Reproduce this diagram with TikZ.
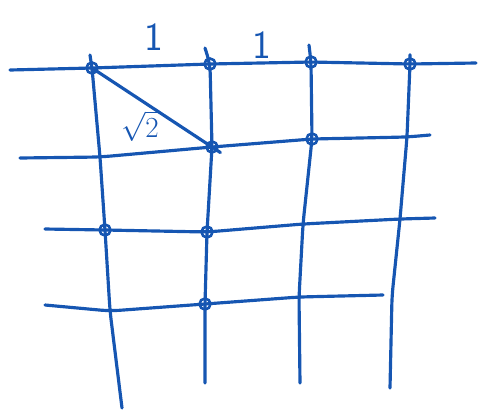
\documentclass[tikz,border=0pt]{standalone}
\usepackage{amsmath}
\usetikzlibrary{calc}
\definecolor{stylo}{RGB}{22,86,178}

\begin{document}
\begin{tikzpicture}[x=0.03cm, y=-0.03cm,
		trait/.style={draw=stylo, line width=2.7pt, line cap=round, line join=round, rounded corners=8pt},
		noeud/.style={circle, draw=stylo, line width=2.2pt, inner sep=0pt, minimum size=0.33cm},
		etiq/.style={text=stylo, font=\sffamily\fontsize{34}{34}\selectfont}]
	\useasboundingbox (0,0) rectangle (478,411);
	
	% points of the grid
	\coordinate (L1) at (10,70);  \coordinate (R1) at (476,63);
	\coordinate (L2) at (20,158); \coordinate (R2) at (430,135);
	\coordinate (L3) at (45,229); \coordinate (R3) at (435,218);
	\coordinate (L4) at (45,305); \coordinate (R4) at (383,295);
	\coordinate (T1) at (90,55);  \coordinate (B1) at (122,408);
	\coordinate (T2) at (205,48); \coordinate (B2) at (205,383);
	\coordinate (T3) at (309,45); \coordinate (B3) at (300,383);
	\coordinate (T4) at (410,55); \coordinate (B4) at (390,388);
	
	\coordinate (c11) at (92,68);   \coordinate (c12) at (210,64);
	\coordinate (c13) at (311,62);  \coordinate (c14) at (410,64);
	\coordinate (c21) at (100,157); \coordinate (c22) at (212,147);
	\coordinate (c23) at (312,139); \coordinate (c24) at (407,137);
	\coordinate (c31) at (105,230); \coordinate (c32) at (207,232);
	\coordinate (c33) at (303,224); \coordinate (c34) at (400,219);
	\coordinate (c41) at (110,311); \coordinate (c42) at (205,304);
	\coordinate (c43) at (299,297); \coordinate (c44) at (392,296);
	
	% lines
	\draw[trait] (L1) -- (c11) -- (c12) -- (c13) -- (c14) -- (R1);
	\draw[trait] (L2) -- (c21) -- (c22) -- (c23) -- (c24) -- (R2);
	\draw[trait] (L3) -- (c31) -- (c32) -- (c33) -- (c34) -- (R3);
	\draw[trait] (L4) -- (c41) -- (c42) -- (c43) -- (R4);
	\draw[trait] (T1) -- (c11) -- (c21) -- (c31) -- (c41) -- (B1);
	\draw[trait] (T2) -- (c12) -- (c22) -- (c32) -- (c42) -- (B2);
	\draw[trait] (T3) -- (c13) -- (c23) -- (c33) -- (c43) -- (B3);
	\draw[trait] (T4) -- (c14) -- (c24) -- (c34) -- (c44) -- (B4);
	\draw[trait] (c11) -- ($(c11)!1.07!(c22)$);
	
	% knots
	\foreach \p in {c11,c12,c13,c14,c22,c23,c31,c32,c42}
		\node[noeud] (n\p) at (\p) {};
	
	% labels
	\node[etiq] (un1) at (154,37) {1};
	\node[etiq] (un2) at (262,45) {1};
	\node[text=stylo, font=\fontsize{30}{30}\selectfont] (racine) at (140,126) {$\sqrt{2}$};
\end{tikzpicture}
\end{document}
